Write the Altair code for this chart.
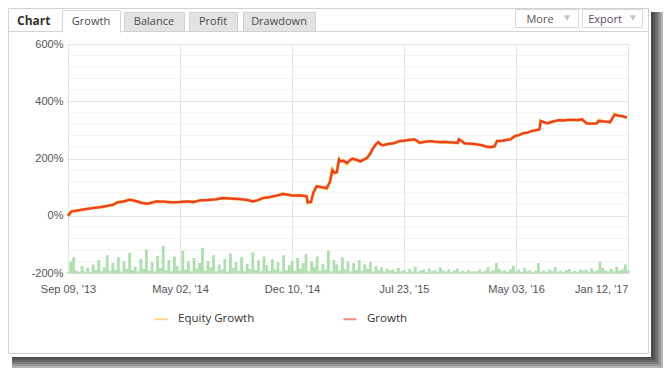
import json
import altair as alt
import pandas as pd

# ---------------- data ----------------
x_tick_values = [0, 100, 200, 300, 400, 500]
x_tick_labels = ["Sep 09, '13", "May 02, '14", "Dec 10, '14", "Jul 23, '15", "May 03, '16", "Jan 12, '17"]
y_tick_values = [-200, 0, 200, 400, 600]
y_minor_grid = [-160, -120, -80, -40, 40, 80, 120, 160, 240, 280, 320, 360, 440, 480, 520, 560]

growth_idx = [0, 3, 8, 14, 22, 29, 36, 40, 44, 50, 55, 60, 66, 71, 75, 79, 86, 93, 100, 106,
              112, 118, 125, 132, 138, 146, 154, 160, 165, 170, 174, 180, 186, 192, 197, 201, 207, 213, 214, 217,
              219, 222, 226, 231, 234, 236, 238, 240, 242, 243, 246, 249, 252, 254, 258, 261, 264, 267, 270, 272,
              275, 277, 279, 281, 285, 290, 293, 296, 300, 305, 309, 312, 314, 318, 323, 327, 332, 337, 342, 348,
              349, 352, 354, 358, 362, 365, 370, 374, 378, 381, 383, 388, 392, 395, 399, 403, 406, 410, 414, 418,
              421, 422, 425, 428, 432, 436, 439, 443, 447, 451, 455, 459, 461, 463, 467, 472, 474, 478, 484, 486,
              488, 491, 495, 499]
growth_vals = [0, 15, 18, 22, 27, 30, 35, 38, 47, 50, 56, 52, 45, 42, 46, 50, 49, 47, 48, 50,
               48, 54, 55, 57, 62, 60, 58, 55, 50, 55, 62, 65, 70, 76, 73, 70, 71, 68, 47, 48,
               80, 103, 100, 97, 120, 159, 150, 152, 196, 190, 192, 185, 195, 199, 195, 190, 196, 202, 218, 234,
               250, 257, 250, 246, 250, 253, 256, 261, 262, 265, 267, 262, 255, 258, 261, 259, 257, 258, 256, 255,
               267, 260, 253, 252, 251, 249, 246, 241, 240, 243, 261, 262, 265, 267, 278, 282, 288, 290, 296, 299,
               302, 331, 327, 323, 328, 332, 334, 333, 335, 335, 334, 337, 330, 323, 322, 323, 331, 330, 327, 340,
               353, 350, 348, 343]
equity_vals = [0, 15, 18, 22, 27, 30, 35, 38, 47, 50, 56, 52, 45, 42, 46, 50, 49, 47, 48, 50,
               48, 54, 55, 57, 62, 60, 58, 55, 50, 55, 62, 65, 70, 76, 73, 70, 71, 68, 45, 48,
               80, 103, 100, 94, 120, 162, 150, 152, 196, 190, 192, 181, 195, 199, 195, 190, 196, 202, 218, 234,
               250, 257, 250, 246, 250, 253, 256, 261, 262, 265, 267, 258, 255, 258, 261, 259, 257, 258, 256, 255,
               267, 260, 253, 252, 251, 249, 246, 241, 240, 243, 261, 262, 265, 267, 278, 282, 288, 290, 296, 299,
               302, 331, 327, 323, 328, 332, 334, 333, 335, 335, 334, 337, 330, 323, 322, 323, 333, 330, 327, 340,
               355, 350, 348, 343]

bar_heights = [4, 40, 55, 8, 5, 25, 6, 18, 4, 30,
               10, 45, 6, 20, 62, 8, 35, 12, 55, 5,
               40, 15, 70, 10, 22, 6, 50, 14, 82, 8,
               38, 5, 60, 18, 95, 10, 45, 6, 58, 25,
               8, 78, 12, 40, 6, 52, 15, 35, 88, 8,
               42, 20, 62, 6, 30, 12, 48, 5, 68, 18,
               38, 8, 55, 6, 32, 14, 72, 10, 44, 6,
               58, 28, 8, 48, 12, 38, 6, 62, 10, 28,
               42, 8, 52, 16, 35, 66, 6, 40, 22, 58,
               8, 32, 12, 78, 6, 45,
               30, 8, 55, 12, 40, 6, 35, 10, 45, 8,
               30, 14, 38, 6, 25, 10, 20, 5, 15, 8,
               12, 4, 18, 6, 10, 3, 14, 5, 22, 4,
               8, 12, 3, 16, 6, 10, 4, 20, 8, 5,
               12, 3, 9, 15, 4, 7, 3, 10, 5, 6,
               6, 12, 4, 8, 22, 5, 10, 35, 14, 6,
               9, 4, 12, 25, 5, 12, 4, 18, 6, 10,
               3, 8, 35, 5, 9, 4, 12, 6, 20, 5,
               8, 3, 10, 14, 4, 7, 3, 12, 8, 12,
               5, 16, 6, 10, 40, 18, 8, 5, 14, 6,
               22, 8, 12, 30, 10]
bar_step = 500 / (len(bar_heights) - 1)

series_names = ["Equity Growth", "Growth"]
series_colors = ["#f9c23c", "#ec3f2a"]

tab_names = ["Growth", "Balance", "Profit", "Drawdown"]

# ---------------- frames ----------------
df_growth = pd.DataFrame({"idx": growth_idx, "value": growth_vals, "series": "Growth"})
df_equity = pd.DataFrame({"idx": growth_idx, "value": equity_vals, "series": "Equity Growth"})
df_bars = pd.DataFrame({"idx": [i * bar_step for i in range(len(bar_heights))],
                        "top": [-200 + h for h in bar_heights]})
df_minor = pd.DataFrame({"v": y_minor_grid})
one = alt.Data(values=[{"a": 1}])

# ---------------- scales / axes ----------------
x_expr = '""'
for v, lab in reversed(list(zip(x_tick_values, x_tick_labels))):
    x_expr = f"datum.value == {v} ? {json.dumps(lab)} : ({x_expr})"

xscale = alt.Scale(domain=[0, 500], nice=False, zero=False, padding=0)
yscale = alt.Scale(domain=[-200, 600], nice=False, zero=False, padding=0)
x_axis = alt.Axis(values=x_tick_values, labelExpr=x_expr, title=None, grid=True, gridColor="#e4e4e4",
                  ticks=False, domain=True, domainColor="#d6d6d6", labelPadding=10,
                  labelAlign={"condition": {"test": "datum.value == 500", "value": "right"}, "value": "center"},
                  labelFont="Liberation Sans", labelFontSize=11, labelColor="#555555")
y_axis = alt.Axis(values=y_tick_values, labelExpr="datum.value + '%'", title=None, grid=True,
                  gridColor="#e4e4e4", ticks=False, domain=False, labelPadding=5,
                  labelFont="Liberation Sans", labelFontSize=11, labelColor="#555555")

legend = alt.Legend(orient="none", legendX=85, legendY=267, direction="horizontal", title=None,
                    symbolType="stroke", symbolSize=170, symbolStrokeWidth=2, symbolOpacity=0.6,
                    labelFont="Open Sans", labelFontSize=11.5, labelColor="#333333", labelOffset=9,
                    columnPadding=84)
color_scale = alt.Scale(domain=series_names, range=series_colors)

# ---------------- decoration (card, header, tabs, buttons) ----------------
layers = []
for d in [1, 3, 5, 7, 9, 11, 13]:
    # right shadow strip
    layers.append(alt.Chart(one).mark_rect(color="#000000", opacity=0.16).encode(
        x=alt.value(583), x2=alt.value(584 + d), y=alt.value(-32), y2=alt.value(313 + d)))
    # bottom shadow strip
    layers.append(alt.Chart(one).mark_rect(color="#000000", opacity=0.16).encode(
        x=alt.value(-56), x2=alt.value(583), y=alt.value(313), y2=alt.value(313 + d)))
layers.append(alt.Chart(one).mark_rect(fill=None, stroke="#d2d2d2", strokeWidth=1).encode(
    x=alt.value(-59.5), x2=alt.value(580.5), y=alt.value(-35.5), y2=alt.value(309.5)))
# header separator
layers.append(alt.Chart(one).mark_rule(color="#d4d4d4").encode(
    x=alt.value(-60), x2=alt.value(580), y=alt.value(-12.5)))
# tabs
tab_x = [(-6, 52), (56, 116), (121, 169), (175, 247)]
tab_cx = [23, 86, 145, 211]
for i, (name, (a, b), cx) in enumerate(zip(tab_names, tab_x, tab_cx)):
    if i == 0:
        layers.append(alt.Chart(one).mark_rect(fill="#ffffff", stroke="#d4d4d4").encode(
            x=alt.value(a + 0.5), x2=alt.value(b + 0.5), y=alt.value(-33.5), y2=alt.value(-11.5)))
        layers.append(alt.Chart(one).mark_rect(fill="#ffffff").encode(
            x=alt.value(a + 1), x2=alt.value(b), y=alt.value(-14), y2=alt.value(-10)))
    else:
        layers.append(alt.Chart(one).mark_rect(fill="#e3e3e3", stroke="#d0d0d0").encode(
            x=alt.value(a + 0.5), x2=alt.value(b + 0.5), y=alt.value(-31.5), y2=alt.value(-12.5)))
    layers.append(alt.Chart(one).mark_text(text=name, font="Open Sans", fontSize=11, color="#4a4a4a",
                                           align="center", baseline="alphabetic").encode(
        x=alt.value(cx), y=alt.value(-19)))
layers.append(alt.Chart(one).mark_text(text="Chart", font="Open Sans", fontSize=12, fontWeight="bold",
                                       color="#333333", align="left", baseline="alphabetic").encode(
    x=alt.value(-51), y=alt.value(-19)))
# buttons
for (a, b, lab, tx, ax, col) in [(447, 510, "More", 472, 499, "#555555"),
                                  (514, 574, "Export", 537, 565, "#5a4a6a")]:
    layers.append(alt.Chart(one).mark_rect(fill="#ffffff", stroke="#d8d8d8").encode(
        x=alt.value(a + 0.5), x2=alt.value(b + 0.5), y=alt.value(-34.5), y2=alt.value(-16.5)))
    layers.append(alt.Chart(one).mark_text(text=lab, font="Open Sans", fontSize=11, color=col,
                                           align="center", baseline="alphabetic").encode(
        x=alt.value(tx), y=alt.value(-21)))
    layers.append(alt.Chart(one).mark_point(shape="triangle-down", filled=True, size=40,
                                            color="#c4c4c4", opacity=1).encode(
        x=alt.value(ax), y=alt.value(-26)))

# ---------------- plot layers ----------------
minor = alt.Chart(df_minor).mark_rule(color="#f3f3f3", strokeWidth=1).encode(
    y=alt.Y("v:Q", scale=yscale, axis=y_axis))
bars = alt.Chart(df_bars).mark_bar(color="#9ad79a", opacity=0.8, size=2.8).encode(
    x=alt.X("idx:Q", scale=xscale, axis=x_axis),
    y=alt.Y("top:Q", scale=yscale, axis=y_axis),
    y2=alt.datum(-200))
eq_line = alt.Chart(df_equity).mark_line(strokeWidth=3.2, interpolate="linear").encode(
    x=alt.X("idx:Q", scale=xscale, axis=x_axis),
    y=alt.Y("value:Q", scale=yscale, axis=y_axis),
    color=alt.Color("series:N", scale=color_scale, legend=legend))
gr_line = alt.Chart(df_growth).mark_line(strokeWidth=2.3, interpolate="linear").encode(
    x=alt.X("idx:Q", scale=xscale, axis=x_axis),
    y=alt.Y("value:Q", scale=yscale, axis=y_axis),
    color=alt.Color("series:N", scale=color_scale, legend=legend))

chart = alt.layer(minor, bars, eq_line, gr_line, *layers).properties(
    width=560, height=229,
    autosize=alt.AutoSizeParams(type="none"),
    padding={"left": 60, "top": 36, "right": 35, "bottom": 95},
).configure(background="#ffffff").configure_view(stroke=None)

chart.save("out.html", embed_options={"renderer": "svg", "actions": False})
